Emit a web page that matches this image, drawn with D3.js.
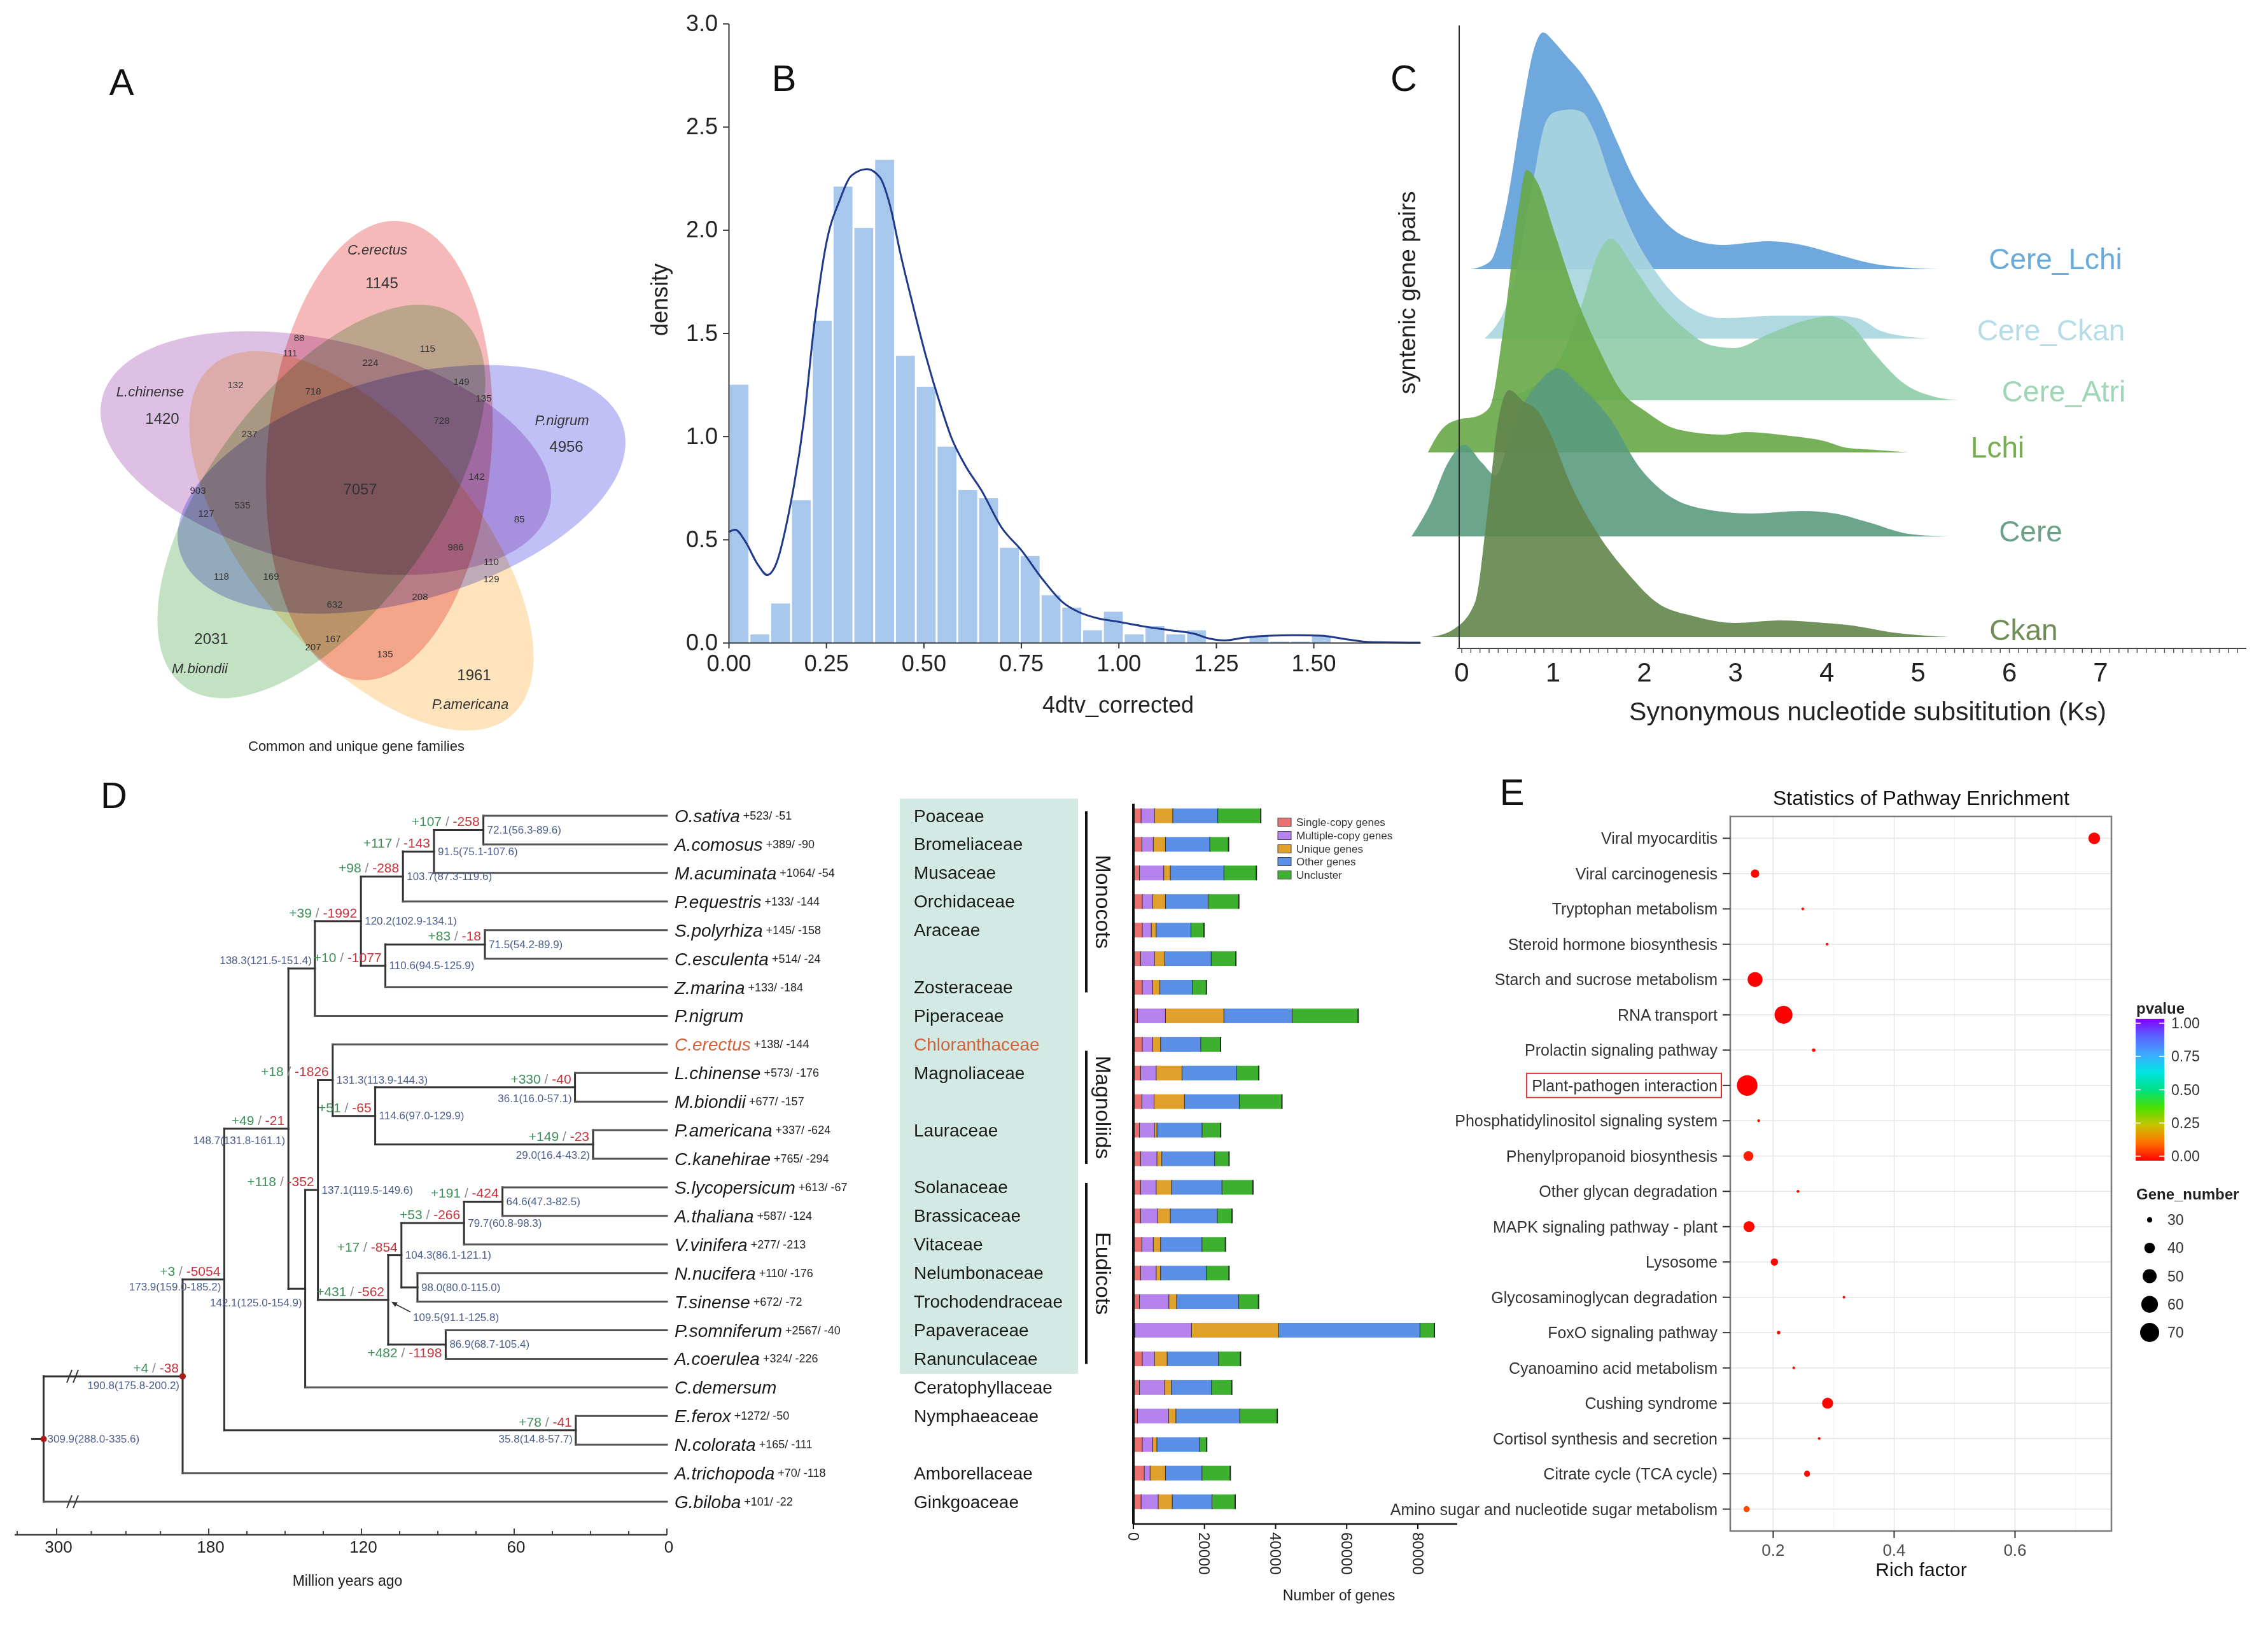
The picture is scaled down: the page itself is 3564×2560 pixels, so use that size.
<!DOCTYPE html>
<html>
<head>
<meta charset="utf-8">
<script src="https://cdn.jsdelivr.net/npm/d3@7"></script>
<style>
body { margin: 0; background: #fff; }
text { font-family: "Liberation Sans", Arial, sans-serif; }
</style>
</head>
<body>
<script>
const W = 3564, H = 2560;

// ---------------- data ----------------
// A: five-set Venn of gene families
const vennSets = ["C.erectus", "L.chinense", "P.nigrum", "M.biondii", "P.americana"];
const vennUnique = [1145, 1420, 4956, 2031, 1961];
const vennShared = [7057, 88, 111, 224, 115, 132, 718, 149, 135, 728, 237, 142, 903, 127, 535,
                    85, 986, 110, 129, 118, 169, 208, 632, 167, 207, 135];

// B: 4dtv histogram (30 bins over 0-1.6) and kde
const histDensity = [1.25, 0.04, 0.19, 0.69, 1.56, 2.21, 2.01, 2.34, 1.39, 1.24,
                     0.95, 0.74, 0.70, 0.46, 0.42, 0.23, 0.17, 0.06, 0.15, 0.04,
                     0.08, 0.04, 0.06, 0, 0, 0.034, 0.005, 0.005, 0.034, 0];
const kdeX = [0, 0.017, 0.043, 0.075, 0.099, 0.121, 0.154, 0.193, 0.219, 0.251, 0.284, 0.316, 0.355,
              0.388, 0.414, 0.44, 0.472, 0.505, 0.544, 0.57, 0.609, 0.648, 0.70, 0.752, 0.804, 0.856,
              0.895, 0.947, 0.999, 1.064, 1.129, 1.194, 1.233, 1.272, 1.324, 1.389, 1.454, 1.519,
              1.585, 1.65, 1.774];
const kdeY = [0.536, 0.547, 0.49, 0.378, 0.328, 0.378, 0.626, 1.078, 1.53, 1.94, 2.14, 2.265, 2.295,
              2.254, 2.118, 1.89, 1.64, 1.395, 1.146, 1.0, 0.852, 0.739, 0.558, 0.445, 0.31, 0.197,
              0.151, 0.118, 0.102, 0.079, 0.061, 0.043, 0.02, 0.011, 0.025, 0.034, 0.036, 0.034,
              0.016, 0.002, 0];

// C: Ks ridgelines
const ridgeNames = ["Cere_Lchi", "Cere_Ckan", "Cere_Atri", "Lchi", "Cere", "Ckan"];
const ridgeKs = [
  [0.1, 0.31, 0.49, 0.65, 0.80, 0.89, 1.02, 1.14, 1.32, 1.51, 1.69, 1.88, 2.12, 2.43, 2.86, 3.36, 3.73, 4.09, 4.53, 4.96, 5.23],
  [0.25, 0.58, 0.77, 0.92, 1.02, 1.2, 1.32, 1.45, 1.63, 1.88, 2.12, 2.43, 2.86, 3.48, 4.09, 4.34, 4.59, 4.83, 5.14],
  [0.25, 0.4, 1.0, 1.32, 1.5, 1.63, 1.88, 2.12, 2.43, 2.74, 2.99, 3.36, 3.73, 4.03, 4.28, 4.53, 4.83, 5.2, 5.45],
  [-0.37, -0.22, -0.03, 0.15, 0.31, 0.46, 0.62, 0.71, 0.83, 1.02, 1.26, 1.51, 1.75, 2.0, 2.37, 2.86, 3.11, 3.6, 3.97, 4.22, 4.53, 4.9],
  [-0.55, -0.34, -0.15, 0.03, 0.22, 0.37, 0.5, 0.65, 0.83, 1.05, 1.3, 1.63, 1.94, 2.25, 2.62, 3.17, 3.73, 4.09, 4.46, 4.9, 5.33],
  [-0.34, -0.09, 0.15, 0.28, 0.4, 0.52, 0.68, 0.83, 0.95, 1.2, 1.51, 1.82, 2.12, 2.56, 2.99, 3.48, 3.97, 4.28, 4.71, 5.33]
];
const ridgeDensity = [
  [0, .03, .25, .60, .875, .93, .89, .84, .765, .655, .51, .36, .23, .13, .095, .11, .095, .06, .02, .004, 0],
  [0, .23, .595, .85, .89, .9, .89, .815, .63, .41, .265, .14, .08, .09, .09, .08, .03, .01, 0],
  [0, .004, .12, .38, .58, .635, .525, .4, .285, .215, .205, .26, .31, .33, .29, .18, .07, .012, 0],
  [0, .09, .13, .14, .18, .495, .95, 1.11, 1.06, .86, .605, .4, .24, .165, .09, .07, .08, .065, .045, .018, .01, 0],
  [0, .13, .29, .36, .29, .24, .35, .5, .6, .66, .59, .46, .275, .165, .11, .09, .10, .09, .055, .01, 0],
  [0, .03, .14, .485, .85, .97, .925, .89, .815, .595, .395, .25, .14, .08, .055, .065, .055, .045, .018, 0]
];

// D: species tree
const species = ["O.sativa", "A.comosus", "M.acuminata", "P.equestris", "S.polyrhiza", "C.esculenta",
  "Z.marina", "P.nigrum", "C.erectus", "L.chinense", "M.biondii", "P.americana", "C.kanehirae",
  "S.lycopersicum", "A.thaliana", "V.vinifera", "N.nucifera", "T.sinense", "P.somniferum",
  "A.coerulea", "C.demersum", "E.ferox", "N.colorata", "A.trichopoda", "G.biloba"];
const speciesGain = [523, 389, 1064, 133, 145, 514, 133, null, 138, 573, 677, 337, 765, 613, 587, 277,
  110, 672, 2567, 324, null, 1272, 165, 70, 101];
const speciesLoss = [51, 90, 54, 144, 158, 24, 184, null, 144, 176, 157, 624, 294, 67, 124, 213, 176,
  72, 40, 226, null, 50, 111, 118, 22];
const families = ["Poaceae", "Bromeliaceae", "Musaceae", "Orchidaceae", "Araceae", "", "Zosteraceae",
  "Piperaceae", "Chloranthaceae", "Magnoliaceae", "", "Lauraceae", "", "Solanaceae", "Brassicaceae",
  "Vitaceae", "Nelumbonaceae", "Trochodendraceae", "Papaveraceae", "Ranunculaceae",
  "Ceratophyllaceae", "Nymphaeaceae", "", "Amborellaceae", "Ginkgoaceae"];
const clades = [["Monocots", 0, 6], ["Magnoliids", 8, 12], ["Eudicots", 13, 19]];

const treeDef = ["n309", [
  ["n190", [
    ["n173", [
      ["n148", [
        ["n138", [
          ["n120", [
            ["n103", [
              ["n91", [["n72", ["O.sativa", "A.comosus"]], "M.acuminata"]],
              "P.equestris"]],
            ["n110", [["n71", ["S.polyrhiza", "C.esculenta"]], "Z.marina"]]]],
          "P.nigrum"]],
        ["n142", [
          ["n137", [
            ["n131", ["C.erectus",
              ["n114", [["n36", ["L.chinense", "M.biondii"]], ["n29", ["P.americana", "C.kanehirae"]]]]]],
            ["n109", [
              ["n104", [
                ["n79", [["n64", ["S.lycopersicum", "A.thaliana"]], "V.vinifera"]],
                ["n98", ["N.nucifera", "T.sinense"]]]],
              ["n86", ["P.somniferum", "A.coerulea"]]]]]],
          "C.demersum"]]]],
      ["n35", ["E.ferox", "N.colorata"]]]],
    "A.trichopoda"]],
  "G.biloba"]];

const nodeAge = {n309: 309.9, n190: 190.8, n173: 173.9, n148: 148.7, n138: 138.3, n120: 120.2,
  n103: 103.7, n91: 91.5, n72: 72.1, n110: 110.6, n71: 71.5, n142: 142.1, n137: 137.1, n131: 131.3,
  n114: 114.6, n36: 36.1, n29: 29.0, n109: 109.5, n104: 104.3, n79: 79.7, n64: 64.6, n98: 98.0,
  n86: 86.9, n35: 35.8};
const nodeCI = {n309: "288.0-335.6", n190: "175.8-200.2", n173: "159.0-185.2", n148: "131.8-161.1",
  n138: "121.5-151.4", n120: "102.9-134.1", n103: "87.3-119.6", n91: "75.1-107.6", n72: "56.3-89.6",
  n110: "94.5-125.9", n71: "54.2-89.9", n142: "125.0-154.9", n137: "119.5-149.6", n131: "113.9-144.3",
  n114: "97.0-129.9", n36: "16.0-57.1", n29: "16.4-43.2", n109: "91.1-125.8", n104: "86.1-121.1",
  n79: "60.8-98.3", n64: "47.3-82.5", n98: "80.0-115.0", n86: "68.7-105.4", n35: "14.8-57.7"};
const nodeGain = {n190: 4, n173: 3, n148: 49, n120: 39, n103: 98, n91: 117, n72: 107, n110: 10, n71: 83,
  n137: 118, n131: 18, n114: 51, n36: 330, n29: 149, n109: 431, n104: 17, n79: 53, n64: 191, n86: 482, n35: 78};
const nodeLoss = {n190: 38, n173: 5054, n148: 21, n120: 1992, n103: 288, n91: 143, n72: 258, n110: 1077,
  n71: 18, n137: 352, n131: 1826, n114: 65, n36: 40, n29: 23, n109: 562, n104: 854, n79: 266, n64: 424,
  n86: 1198, n35: 41};
const timeMajor = [300, 180, 120, 60, 0];
const timeMinor = [330, 270, 240, 210, 165, 150, 135, 105, 90, 75, 45, 30, 15];

// D: gene category counts
const segNames = ["Single-copy genes", "Multiple-copy genes", "Unique genes", "Other genes", "Uncluster"];
const singleCopy = [2260, 2470, 1780, 2600, 2600, 2120, 2600, 1230, 2600, 2120, 2470, 1780, 2120, 2120,
  2120, 2470, 2120, 1780, 550, 2600, 1780, 1230, 2600, 3150, 2260];
const multiCopy = [3770, 3220, 6850, 2880, 2530, 3900, 2950, 7880, 2950, 4380, 3430, 4250, 4600, 4380,
  4800, 3220, 4380, 8290, 15890, 3430, 7060, 8770, 2950, 1640, 4800];
const uniqueGenes = [5140, 3420, 1850, 3630, 1370, 2880, 1990, 16440, 2190, 7260, 8560, 690, 1370, 4320,
  3560, 2050, 1230, 2190, 24520, 3560, 1920, 2050, 1160, 4320, 3970];
const otherGenes = [12670, 12470, 15070, 11990, 9800, 13080, 9110, 19180, 11300, 15410, 15410, 12690,
  14860, 14180, 13220, 11650, 12880, 17470, 39730, 14450, 11300, 17950, 11990, 10270, 11170];
const uncluster = [11990, 5200, 9040, 8560, 3560, 6850, 3900, 18500, 5480, 6100, 11920, 5140, 3970, 8630,
  4040, 6510, 6300, 5480, 3970, 6100, 5620, 10480, 1920, 7880, 6440];
const geneTicks = [0, 20000, 40000, 60000, 80000];

// E: KEGG enrichment
const pathways = ["Viral myocarditis", "Viral carcinogenesis", "Tryptophan metabolism",
  "Steroid hormone biosynthesis", "Starch and sucrose metabolism", "RNA transport",
  "Prolactin signaling pathway", "Plant-pathogen interaction", "Phosphatidylinositol signaling system",
  "Phenylpropanoid biosynthesis", "Other glycan degradation", "MAPK signaling pathway - plant",
  "Lysosome", "Glycosaminoglycan degradation", "FoxO signaling pathway", "Cyanoamino acid metabolism",
  "Cushing syndrome", "Cortisol synthesis and secretion", "Citrate cycle (TCA cycle)",
  "Amino sugar and nucleotide sugar metabolism"];
const richFactor = [0.731, 0.170, 0.249, 0.289, 0.170, 0.217, 0.267, 0.157, 0.176, 0.159, 0.241, 0.160,
  0.202, 0.317, 0.209, 0.234, 0.290, 0.276, 0.256, 0.156];
const geneNumber = [43, 35, 27.5, 27.5, 53, 65, 28, 77, 27.5, 38, 27.5, 41, 33, 27.5, 28, 27.5, 41, 27.5, 31, 31];
const pValue = [0.002, 0.004, 0.01, 0.01, 0.0, 0.0, 0.01, 0.0, 0.01, 0.03, 0.01, 0.01, 0.005, 0.01,
  0.01, 0.01, 0.002, 0.01, 0.01, 0.08];
const sizeLegend = [30, 40, 50, 60, 70];
const pTicks = [0, 0.25, 0.5, 0.75, 1];

// ---------------- drawing ----------------
const svg = d3.select("body").append("svg").attr("width", W).attr("height", H);
svg.append("rect").attr("width", W).attr("height", H).attr("fill", "#fff");

// panel letters
const letters = [["A", 191, 149], ["B", 1232, 143], ["C", 2206, 143], ["D", 179, 1270], ["E", 2376, 1265]];
svg.selectAll("text.letter").data(letters).join("text")
  .attr("class", "letter")
  .attr("x", d => d[1]).attr("y", d => d[2])
  .attr("text-anchor", "middle").attr("font-size", 58).attr("fill", "#111")
  .text(d => d[0]);

// ---- A: Venn ----
const gA = svg.append("g");
const vennGeom = [[596, 708, -85], [512, 712, 13.8], [631, 769, -15.6], [505, 788, -53.5], [568, 850, 49.5]];
const vennColors = ["#ec6a6a", "#b97ac8", "#7a7aee", "#80c280", "#fbc572"];
gA.selectAll("ellipse").data(vennSets).join("ellipse")
  .attr("cx", (d, i) => vennGeom[i][0]).attr("cy", (d, i) => vennGeom[i][1])
  .attr("rx", 362).attr("ry", 176)
  .attr("transform", (d, i) => `rotate(${vennGeom[i][2]} ${vennGeom[i][0]} ${vennGeom[i][1]})`)
  .attr("fill", (d, i) => vennColors[i]).attr("fill-opacity", 0.47)
  .style("mix-blend-mode", "multiply");

const vennNamePos = [[593, 392], [236, 615], [883, 660], [314, 1050], [739, 1106]];
const vennUniquePos = [[600, 444], [255, 657], [890, 701], [332, 1003], [745, 1060]];
const vennSharedPos = [[566, 768], [470, 530], [456, 554], [582, 569], [672, 547], [370, 604], [492, 614],
  [725, 599], [760, 625], [694, 660], [392, 681], [749, 748], [311, 770], [324, 806], [381, 793],
  [816, 815], [716, 859], [772, 882], [772, 909], [348, 905], [426, 905], [660, 937], [526, 949],
  [523, 1003], [492, 1016], [605, 1027]];
gA.selectAll("text.vname").data(vennSets).join("text")
  .attr("x", (d, i) => vennNamePos[i][0]).attr("y", (d, i) => vennNamePos[i][1])
  .attr("text-anchor", "middle").attr("dominant-baseline", "central")
  .attr("font-size", 22).attr("font-style", "italic").attr("fill", "#333").text(d => d);
gA.selectAll("text.vuniq").data(vennUnique).join("text")
  .attr("x", (d, i) => vennUniquePos[i][0]).attr("y", (d, i) => vennUniquePos[i][1])
  .attr("text-anchor", "middle").attr("dominant-baseline", "central")
  .attr("font-size", 24).attr("fill", "#333").text(d => d);
gA.selectAll("text.vshared").data(vennShared).join("text")
  .attr("x", (d, i) => vennSharedPos[i][0]).attr("y", (d, i) => vennSharedPos[i][1])
  .attr("text-anchor", "middle").attr("dominant-baseline", "central")
  .attr("font-size", (d, i) => i === 0 ? 24 : 15).attr("fill", "#333").text(d => d);
gA.append("text").attr("x", 560).attr("y", 1172).attr("text-anchor", "middle")
  .attr("dominant-baseline", "central").attr("font-size", 22).attr("fill", "#222")
  .text("Common and unique gene families");

// ---- B: histogram ----
const gB = svg.append("g").style("font-family", "'DejaVu Sans Condensed','Liberation Sans Narrow','DejaVu Sans',sans-serif");
const xB = d3.scaleLinear().domain([0, 1.774]).range([1145, 2232]);
const yB = d3.scaleLinear().domain([0, 3]).range([1010, 37]);
const binW = 1.6 / histDensity.length;
gB.selectAll("rect").data(histDensity).join("rect")
  .attr("x", (d, i) => xB(i * binW) + 1.5)
  .attr("width", (d, i) => xB((i + 1) * binW) - xB(i * binW) - 3)
  .attr("y", d => yB(d)).attr("height", d => yB(0) - yB(d))
  .attr("fill", "#a7c7ec");
gB.append("path")
  .datum(kdeX.map((x, i) => [x, kdeY[i]]))
  .attr("d", d3.line().curve(d3.curveMonotoneX).x(d => xB(d[0])).y(d => yB(d[1])))
  .attr("fill", "none").attr("stroke", "#1f3a8a").attr("stroke-width", 3);
const axB = gB.append("g").attr("transform", "translate(0,1010)")
  .call(d3.axisBottom(xB).tickValues([0, 0.25, 0.5, 0.75, 1, 1.25, 1.5]).tickFormat(d3.format(".2f"))
    .tickSize(9).tickSizeOuter(0).tickPadding(10));
const ayB = gB.append("g").attr("transform", "translate(1145,0)")
  .call(d3.axisLeft(yB).tickValues([0, 0.5, 1, 1.5, 2, 2.5, 3]).tickFormat(d3.format(".1f"))
    .tickSize(9).tickSizeOuter(0).tickPadding(8));
[axB, ayB].forEach(a => {
  a.selectAll("text").attr("font-size", 36).attr("fill", "#222").style("font-family", null);
  a.selectAll("line,path").attr("stroke", "#333").attr("stroke-width", 2);
  a.attr("font-family", null);
});
gB.append("text").attr("transform", "translate(1036,471) rotate(-90)").attr("text-anchor", "middle")
  .attr("dominant-baseline", "central").attr("font-size", 36).attr("fill", "#222").text("density");
gB.append("text").attr("x", 1757).attr("y", 1107).attr("text-anchor", "middle")
  .attr("dominant-baseline", "central").attr("font-size", 36).attr("fill", "#222").text("4dtv_corrected");

// ---- C: ridgelines ----
const gC = svg.append("g");
const xC = d3.scaleLinear().domain([0, 7]).range([2297, 3301]);
const hC = d3.scaleLinear().domain([0, 1]).range([0, 400]);
const ridgeBase = [423, 532, 629, 711, 843, 1001];
const ridgeFill = ["#5f9fd8", "#a8d5df", "#8fcca8", "#67a948", "#5a9b80", "#62864a"];
const ridgeText = ["#6aaad9", "#b6dde5", "#a0d6b6", "#76ad50", "#6aa188", "#6f8d55"];
ridgeNames.forEach((name, r) => {
  const pts = ridgeKs[r].map((k, i) => [k, ridgeDensity[r][i]]);
  const base = ridgeBase[r];
  gC.append("path").datum(pts)
    .attr("d", d3.area().curve(d3.curveMonotoneX).x(d => xC(d[0])).y0(base).y1(d => base - hC(d[1])))
    .attr("fill", ridgeFill[r]).attr("fill-opacity", 0.9);
});
gC.selectAll("text.rlab").data(ridgeNames).join("text")
  .attr("x", (d, i) => [3230, 3223, 3243, 3139, 3191, 3180][i])
  .attr("y", (d, i) => [407, 519, 615, 703, 835, 990][i])
  .attr("text-anchor", "middle").attr("dominant-baseline", "central")
  .attr("font-size", 46).attr("fill", (d, i) => ridgeText[i]).text(d => d);
gC.append("line").attr("x1", 2293).attr("x2", 2293).attr("y1", 40).attr("y2", 1019)
  .attr("stroke", "#333").attr("stroke-width", 2);
gC.append("line").attr("x1", 2290).attr("x2", 3530).attr("y1", 1019).attr("y2", 1019)
  .attr("stroke", "#444").attr("stroke-width", 2);
const ksMinor = d3.range(0, 86).map(i => i / 10);
gC.selectAll("line.ktick").data(ksMinor).join("line")
  .attr("x1", d => xC(d)).attr("x2", d => xC(d)).attr("y1", 1019).attr("y2", 1026)
  .attr("stroke", "#555").attr("stroke-width", 1.5);
gC.selectAll("text.klab").data(d3.range(0, 8)).join("text")
  .attr("x", d => xC(d)).attr("y", 1056).attr("text-anchor", "middle").attr("dominant-baseline", "central")
  .attr("font-size", 42).attr("fill", "#222").text(d => d);
gC.append("text").attr("x", 2935).attr("y", 1118).attr("text-anchor", "middle")
  .attr("dominant-baseline", "central").attr("font-size", 41).attr("fill", "#222")
  .text("Synonymous nucleotide subsititution (Ks)");
gC.append("text").attr("transform", "translate(2211,460) rotate(-90)").attr("text-anchor", "middle")
  .attr("dominant-baseline", "central").attr("font-size", 37).attr("fill", "#222")
  .text("syntenic gene pairs");

// ---- D: tree ----
const gD = svg.append("g");
const xTree = d3.scaleLinear().domain([330, 300, 190.8, 180, 0]).range([27, 89, 287, 328, 1048]);
const yTree = d3.scaleLinear().domain([0, 24]).range([1282, 2360]);
function build(def) {
  if (typeof def === "string") return {name: def};
  return {name: def[0], children: def[1].map(build)};
}
const root = d3.hierarchy(build(treeDef));
root.eachAfter(d => {
  if (d.children) {
    d.ty = (d.children[0].ty + d.children[d.children.length - 1].ty) / 2;
    d.tx = xTree(nodeAge[d.data.name]);
  } else {
    d.ty = yTree(species.indexOf(d.data.name));
    d.tx = xTree(0);
  }
});
const treeLines = gD.append("g").attr("fill", "none").attr("stroke-width", 3).attr("stroke-linecap", "square");
root.descendants().forEach(d => {
  if (d.parent) {
    treeLines.append("path").attr("d", `M${d.parent.tx},${d.ty}H${d.tx}`)
      .attr("stroke", d.children ? "#333" : "#555");
  }
  if (d.children) {
    treeLines.append("path")
      .attr("d", `M${d.tx},${d.children[0].ty}V${d.children[d.children.length - 1].ty}`)
      .attr("stroke", "#333");
  }
});
treeLines.append("path").attr("d", `M${root.tx - 18},${root.ty}H${root.tx}`).attr("stroke", "#333");
// broken-branch marks
[root.children[0].ty, root.children[1].ty].forEach(y => {
  [-5, 5].forEach(o => {
    gD.append("line").attr("x1", 114 + o - 4).attr("y1", y + 10).attr("x2", 114 + o + 4).attr("y2", y - 10)
      .attr("stroke", "#333").attr("stroke-width", 2);
  });
});
gD.selectAll("circle.rootdot").data([root, root.children[0]]).join("circle")
  .attr("cx", d => d.tx).attr("cy", d => d.ty).attr("r", 5).attr("fill", "#a81c1c");

// node labels
const internals = root.descendants().filter(d => d.children);
const ageLeft = {n138: -13, n148: 19, n142: 22, n173: 12, n190: 15, n36: 18, n29: 17, n35: 14};
internals.forEach(d => {
  const id = d.data.name;
  const txt = `${nodeAge[id].toFixed(1)}(${nodeCI[id]})`;
  const t = gD.append("text").attr("font-family", "'Liberation Serif','Times New Roman',serif")
    .attr("font-size", 17).attr("fill", "#4c5f8c").attr("dominant-baseline", "central").text(txt);
  if (id in ageLeft) {
    t.attr("x", d.tx - 5).attr("y", d.ty + ageLeft[id]).attr("text-anchor", "end");
  } else if (id === "n109") {
    t.attr("x", d.tx + 39).attr("y", d.ty + 28);
    gD.append("line").attr("x1", d.tx + 35).attr("y1", d.ty + 19).attr("x2", d.tx + 8).attr("y2", d.ty + 5)
      .attr("stroke", "#333").attr("stroke-width", 1.5);
    gD.append("path").attr("d", `M${d.tx + 5},${d.ty + 3}l10,1l-4,7z`).attr("fill", "#333");
  } else {
    t.attr("x", d.tx + 6).attr("y", d.ty);
  }
  if (nodeGain[id] != null) {
    const below = id === "n86";
    const g = gD.append("text").attr("font-family", "'Liberation Serif','Times New Roman',serif")
      .attr("font-size", 21).attr("text-anchor", "end")
      .attr("x", d.tx - 6).attr("y", below ? d.ty + 20 : d.ty - 6);
    g.append("tspan").attr("fill", "#3f8f58").text(`+${nodeGain[id]}`);
    g.append("tspan").attr("fill", "#888").text(" / ");
    g.append("tspan").attr("fill", "#c8323a").text(`-${nodeLoss[id]}`);
  }
});

// species labels
const leafText = gD.selectAll("text.sp").data(species).join("text")
  .attr("x", 1060).attr("y", (d, i) => yTree(i)).attr("dominant-baseline", "central")
  .attr("fill", d => d === "C.erectus" ? "#d0623c" : "#1a1a1a");
leafText.append("tspan").attr("font-size", 28).attr("font-style", "italic").text(d => d);
leafText.append("tspan").attr("font-size", 18).attr("fill", "#222")
  .text((d, i) => speciesGain[i] == null ? "" : ` +${speciesGain[i]}/ -${speciesLoss[i]}`);

// family block
gD.append("rect").attr("x", 1414).attr("y", 1255).attr("width", 280).attr("height", 904).attr("fill", "#d3eae4");
gD.selectAll("text.fam").data(families).join("text")
  .attr("x", 1436).attr("y", (d, i) => yTree(i)).attr("dominant-baseline", "central")
  .attr("font-size", 28).attr("fill", d => d === "Chloranthaceae" ? "#d0623c" : "#1a1a1a").text(d => d);
clades.forEach(([name, a, b]) => {
  const y0 = yTree(a) + (a === 8 ? 10 : -7), y1 = yTree(b) + 8;
  gD.append("line").attr("x1", 1707).attr("x2", 1707).attr("y1", y0).attr("y2", y1)
    .attr("stroke", "#111").attr("stroke-width", 4);
  gD.append("text").attr("transform", `translate(1734,${(y0 + y1) / 2}) rotate(90)`)
    .attr("text-anchor", "middle").attr("dominant-baseline", "central")
    .attr("font-size", 34).attr("fill", "#1a1a1a").text(name);
});

// time axis
gD.append("line").attr("x1", 23).attr("x2", 1048).attr("y1", 2412).attr("y2", 2412)
  .attr("stroke", "#444").attr("stroke-width", 2.5);
gD.selectAll("line.tmaj").data(timeMajor).join("line")
  .attr("x1", d => xTree(d)).attr("x2", d => xTree(d)).attr("y1", 2412).attr("y2", 2402)
  .attr("stroke", "#444").attr("stroke-width", 2);
gD.selectAll("line.tmin").data(timeMinor).join("line")
  .attr("x1", d => xTree(d)).attr("x2", d => xTree(d)).attr("y1", 2412).attr("y2", 2406)
  .attr("stroke", "#444").attr("stroke-width", 2);
gD.selectAll("text.tlab").data(timeMajor).join("text")
  .attr("x", d => xTree(d) + 3).attr("y", 2431).attr("text-anchor", "middle").attr("dominant-baseline", "central")
  .attr("font-size", 26).attr("fill", "#222").text(d => d);
gD.append("text").attr("x", 546).attr("y", 2484).attr("text-anchor", "middle").attr("dominant-baseline", "central")
  .attr("font-size", 23).attr("fill", "#222").text("Million years ago");

// stacked gene bars
const gS = svg.append("g");
const xS = d3.scaleLinear().domain([0, 80000]).range([1781, 2228]);
const segColors = ["#ec7070", "#b683ee", "#e1a02c", "#5b8fe6", "#3db12f"];
const rows = species.map((s, i) => ({s, v0: singleCopy[i], v1: multiCopy[i], v2: uniqueGenes[i], v3: otherGenes[i], v4: uncluster[i]}));
const stack = d3.stack().keys(["v0", "v1", "v2", "v3", "v4"])(rows);
stack.forEach((layer, k) => {
  gS.selectAll(`rect.s${k}`).data(layer).join("rect")
    .attr("x", d => xS(d[0])).attr("width", d => xS(d[1]) - xS(d[0]))
    .attr("y", (d, i) => yTree(i) - 11.5).attr("height", 23).attr("fill", segColors[k]);
  gS.selectAll(`line.s${k}`).data(layer).join("line")
    .attr("x1", d => xS(d[1])).attr("x2", d => xS(d[1]))
    .attr("y1", (d, i) => yTree(i) - 11.5).attr("y2", (d, i) => yTree(i) + 11.5)
    .attr("stroke", "#2a2a2a").attr("stroke-width", 2);
});
gS.append("line").attr("x1", 1781).attr("x2", 1781).attr("y1", 1263).attr("y2", 2395)
  .attr("stroke", "#111").attr("stroke-width", 4);
gS.append("line").attr("x1", 1781).attr("x2", 2290).attr("y1", 2395).attr("y2", 2395)
  .attr("stroke", "#111").attr("stroke-width", 2.5);
gS.selectAll("line.gt").data(geneTicks).join("line")
  .attr("x1", d => xS(d)).attr("x2", d => xS(d)).attr("y1", 2395).attr("y2", 2403)
  .attr("stroke", "#111").attr("stroke-width", 2);
gS.selectAll("text.gt").data(geneTicks).join("text")
  .attr("transform", d => `translate(${xS(d)},2408) rotate(90)`)
  .attr("dominant-baseline", "central").attr("font-size", 24).attr("fill", "#222").text(d => d);
gS.append("text").attr("x", 2104).attr("y", 2507).attr("text-anchor", "middle").attr("dominant-baseline", "central")
  .attr("font-size", 23).attr("fill", "#222").text("Number of genes");
const legY = [1292, 1313, 1334, 1354, 1375];
gS.selectAll("rect.leg").data(segNames).join("rect")
  .attr("x", 2008).attr("y", (d, i) => legY[i] - 6.5).attr("width", 21).attr("height", 13)
  .attr("fill", (d, i) => segColors[i]).attr("stroke", "#444").attr("stroke-width", 1);
gS.selectAll("text.leg").data(segNames).join("text")
  .attr("x", 2037).attr("y", (d, i) => legY[i]).attr("dominant-baseline", "central")
  .attr("font-size", 17).attr("fill", "#333").text(d => d);

// ---- E: enrichment bubbles ----
const gE = svg.append("g");
const xE = d3.scaleLinear().domain([0.129, 0.7595]).range([2719, 3318]);
const yE = d3.scalePoint().domain(pathways).range([1283, 2406]).padding(0.62);
const rE = d3.scaleRadial().domain([30, 70]).range([4.2, 15]);
const pStops = [0, 0.125, 0.25, 0.375, 0.5, 0.625, 0.75, 0.875, 1];
const pColor = d3.scaleLinear().domain(pStops)
  .range(["#ff0000", "#ff7000", "#c8c400", "#48e000", "#00e088", "#00e4e4", "#40a8ff", "#5a64ff", "#8000ff"]);

gE.selectAll("line.gminor").data([0.3, 0.5, 0.7]).join("line")
  .attr("x1", d => xE(d)).attr("x2", d => xE(d)).attr("y1", 1283).attr("y2", 2406)
  .attr("stroke", "#f2f2f2").attr("stroke-width", 1);
gE.selectAll("line.gmaj").data([0.2, 0.4, 0.6]).join("line")
  .attr("x1", d => xE(d)).attr("x2", d => xE(d)).attr("y1", 1283).attr("y2", 2406)
  .attr("stroke", "#e6e6e6").attr("stroke-width", 1.6);
gE.selectAll("line.gy").data(pathways).join("line")
  .attr("x1", 2719).attr("x2", 3318).attr("y1", d => yE(d)).attr("y2", d => yE(d))
  .attr("stroke", "#e6e6e6").attr("stroke-width", 1.6);
gE.selectAll("circle.pt").data(pathways).join("circle")
  .attr("cx", (d, i) => xE(richFactor[i])).attr("cy", d => yE(d))
  .attr("r", (d, i) => rE(geneNumber[i])).attr("fill", (d, i) => pColor(pValue[i]));
gE.append("rect").attr("x", 2719).attr("y", 1283).attr("width", 599).attr("height", 1123)
  .attr("fill", "none").attr("stroke", "#7a7a7a").attr("stroke-width", 2.5);
gE.selectAll("line.yt").data(pathways).join("line")
  .attr("x1", 2707).attr("x2", 2719).attr("y1", d => yE(d)).attr("y2", d => yE(d))
  .attr("stroke", "#333").attr("stroke-width", 2);
const yLabels = gE.selectAll("text.yl").data(pathways).join("text")
  .attr("x", 2699).attr("y", d => yE(d)).attr("text-anchor", "end").attr("dominant-baseline", "central")
  .attr("font-size", 25).attr("fill", "#333").text(d => d);
yLabels.filter(d => d === "Plant-pathogen interaction").each(function () {
  const b = this.getBBox();
  gE.append("rect").attr("x", b.x - 8).attr("y", b.y - 5).attr("width", b.width + 14).attr("height", b.height + 10)
    .attr("fill", "none").attr("stroke", "#d43030").attr("stroke-width", 2);
});
gE.selectAll("line.xt").data([0.2, 0.4, 0.6]).join("line")
  .attr("x1", d => xE(d)).attr("x2", d => xE(d)).attr("y1", 2406).attr("y2", 2417)
  .attr("stroke", "#333").attr("stroke-width", 2);
gE.selectAll("text.xl").data([0.2, 0.4, 0.6]).join("text")
  .attr("x", d => xE(d)).attr("y", 2436).attr("text-anchor", "middle").attr("dominant-baseline", "central")
  .attr("font-size", 26).attr("fill", "#4d4d4d").text(d => d.toFixed(1));
gE.append("text").attr("x", 3019).attr("y", 2466).attr("text-anchor", "middle").attr("dominant-baseline", "central")
  .attr("font-size", 30).attr("fill", "#111").text("Rich factor");
gE.append("text").attr("x", 3019).attr("y", 1254).attr("text-anchor", "middle").attr("dominant-baseline", "central")
  .attr("font-size", 32).attr("fill", "#111").text("Statistics of Pathway Enrichment");

// colour bar legend
const grad = svg.append("defs").append("linearGradient").attr("id", "pgrad")
  .attr("x1", 0).attr("y1", 1).attr("x2", 0).attr("y2", 0);
grad.selectAll("stop").data(pStops).join("stop")
  .attr("offset", d => d).attr("stop-color", d => pColor(d));
const yP = d3.scaleLinear().domain([0, 1]).range([1817, 1608]);
gE.append("text").attr("x", 3357).attr("y", 1584).attr("dominant-baseline", "central")
  .attr("font-size", 24).attr("font-weight", "bold").attr("fill", "#222").text("pvalue");
gE.append("rect").attr("x", 3356).attr("y", 1601).attr("width", 45).attr("height", 223).attr("fill", "url(#pgrad)");
gE.selectAll("line.pt1").data(pTicks).join("line")
  .attr("x1", 3356).attr("x2", 3364).attr("y1", d => yP(d)).attr("y2", d => yP(d))
  .attr("stroke", "#fff").attr("stroke-width", 1.5);
gE.selectAll("line.pt2").data(pTicks).join("line")
  .attr("x1", 3393).attr("x2", 3401).attr("y1", d => yP(d)).attr("y2", d => yP(d))
  .attr("stroke", "#fff").attr("stroke-width", 1.5);
gE.selectAll("text.pl").data(pTicks).join("text")
  .attr("x", 3412).attr("y", d => yP(d)).attr("dominant-baseline", "central")
  .attr("font-size", 23).attr("fill", "#333").text(d => d.toFixed(2));
gE.append("text").attr("x", 3357).attr("y", 1876).attr("dominant-baseline", "central")
  .attr("font-size", 24).attr("font-weight", "bold").attr("fill", "#222").text("Gene_number");
const sizeY = d3.scalePoint().domain(sizeLegend).range([1917, 2094]);
gE.selectAll("circle.sl").data(sizeLegend).join("circle")
  .attr("cx", 3378).attr("cy", d => sizeY(d)).attr("r", d => rE(d)).attr("fill", "#000");
gE.selectAll("text.sl").data(sizeLegend).join("text")
  .attr("x", 3406).attr("y", d => sizeY(d)).attr("dominant-baseline", "central")
  .attr("font-size", 23).attr("fill", "#333").text(d => d);
</script>
</body>
</html>
